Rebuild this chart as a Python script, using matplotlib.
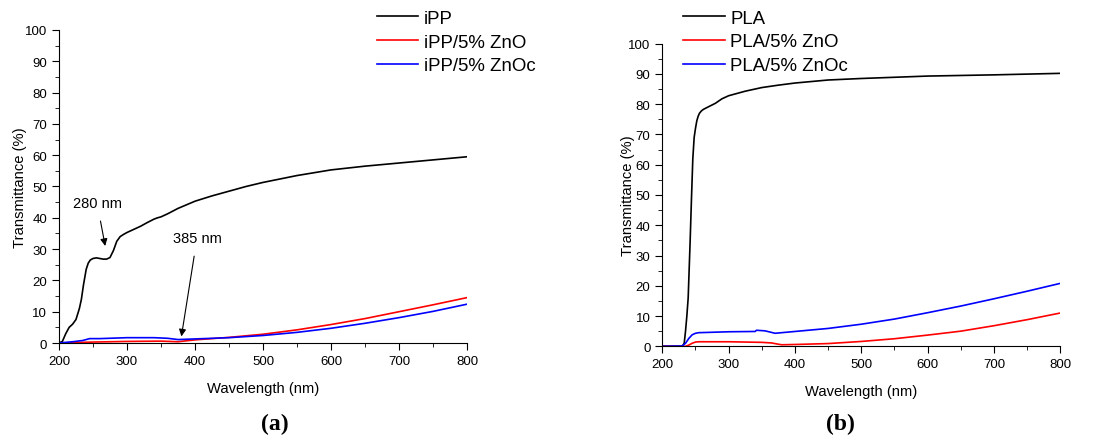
import matplotlib
matplotlib.use('Agg')
import matplotlib.pyplot as plt
from matplotlib.ticker import MultipleLocator

plt.rcParams['font.family'] = ['Liberation Sans', 'DejaVu Sans']

# (a) iPP
wl_ipp = [200, 205, 210, 215, 220, 225, 230, 233, 236, 240, 243, 246, 250, 255, 260, 265, 270,
          275, 280, 285, 290, 295, 300, 310, 320, 330, 340, 345, 350, 360, 375, 400, 425, 450,
          475, 500, 550, 600, 650, 700, 750, 800]
t_ipp = [0, 0.5, 3, 5, 6, 7.5, 11, 14, 18.5, 23.5, 25.5, 26.5, 27, 27.2, 27, 26.8, 26.8,
         27.3, 29.5, 32.5, 34, 34.7, 35.3, 36.3, 37.3, 38.5, 39.6, 40, 40.3, 41.3, 43, 45.3, 47, 48.5,
         50, 51.3, 53.5, 55.3, 56.5, 57.5, 58.5, 59.5]

wl_ipp_zno = [200, 250, 300, 350, 375, 400, 450, 500, 550, 600, 650, 700, 750, 800]
t_ipp_zno = [0, 0.3, 0.5, 0.6, 0.4, 1.0, 1.8, 2.8, 4.2, 5.9, 7.8, 10.0, 12.2, 14.5]

wl_ipp_znoc = [200, 220, 235, 245, 260, 300, 340, 360, 375, 400, 450, 500, 550, 600, 650, 700, 750, 800]
t_ipp_znoc = [0, 0.4, 0.8, 1.4, 1.4, 1.7, 1.7, 1.5, 1.1, 1.3, 1.7, 2.4, 3.4, 4.7, 6.3, 8.1, 10.1, 12.4]

# (b) PLA
wl_pla = [200, 230, 233, 235, 237, 239, 242, 244, 246, 248, 250, 252, 254, 256, 259, 262, 270,
          280, 290, 300, 325, 350, 375, 400, 450, 500, 550, 600, 700, 800]
t_pla = [0, 0, 1, 5, 10, 16, 35, 49, 62, 69, 72, 74.5, 76, 77, 77.8, 78.3, 79.2,
         80.3, 81.8, 82.8, 84.3, 85.5, 86.3, 87, 88, 88.5, 88.9, 89.3, 89.7, 90.2]

wl_pla_zno = [200, 235, 240, 245, 250, 255, 300, 350, 365, 372, 380, 400, 450, 500, 550, 600,
              650, 700, 750, 800]
t_pla_zno = [0, 0, 0.4, 1.0, 1.4, 1.5, 1.5, 1.3, 1.1, 0.8, 0.5, 0.6, 0.9, 1.6, 2.5, 3.7,
             5.0, 6.8, 8.8, 11.0]

wl_pla_znoc = [200, 230, 235, 240, 245, 250, 255, 300, 340, 342, 355, 370, 375, 400, 450, 500,
               550, 600, 650, 700, 750, 800]
t_pla_znoc = [0, 0.1, 1, 2.6, 3.8, 4.3, 4.5, 4.8, 4.9, 5.3, 5.1, 4.3, 4.4, 4.9, 5.9, 7.3,
              9.0, 11.1, 13.3, 15.7, 18.2, 20.8]

fig = plt.figure(figsize=(10.94, 4.39), dpi=100)
ax1 = fig.add_axes([0.0539, 0.2164, 0.373, 0.713])
ax2 = fig.add_axes([0.6054, 0.2089, 0.3638, 0.6893])


def estilo(ax, pad_y):
    ax.set_xlim(200, 800)
    ax.set_ylim(0, 100)
    ax.spines['top'].set_visible(False)
    ax.spines['right'].set_visible(False)
    ax.xaxis.set_major_locator(MultipleLocator(100))
    ax.xaxis.set_minor_locator(MultipleLocator(50))
    ax.yaxis.set_major_locator(MultipleLocator(10))
    ax.yaxis.set_minor_locator(MultipleLocator(5))
    ax.tick_params(which='major', direction='out', length=5, labelsize=9.5)
    ax.tick_params(which='minor', direction='out', length=3)
    ax.set_xlabel('Wavelength (nm)', fontsize=10.6, labelpad=10)
    ax.set_ylabel('Transmittance (%)', fontsize=10.6, labelpad=pad_y)


leg_kw = dict(loc='upper left', frameon=False, fontsize=13.4, handlelength=2.25,
              handletextpad=0.3, labelspacing=0.37, borderaxespad=0)

ax1.plot(wl_ipp, t_ipp, color='black', lw=1.2, label='iPP')
ax1.plot(wl_ipp_zno, t_ipp_zno, color='red', lw=1.2, label='iPP/5% ZnO')
ax1.plot(wl_ipp_znoc, t_ipp_znoc, color='blue', lw=1.2, label='iPP/5% ZnOc')
estilo(ax1, -1.8)
ax1.annotate('280 nm', xy=(268, 31), xytext=(256, 44.7), ha='center', va='center', fontsize=10.5,
             arrowprops=dict(arrowstyle='-|>', color='black', lw=0.8, shrinkA=6, shrinkB=0))
ax1.annotate('385 nm', xy=(380, 2.1), xytext=(403, 33.5), ha='center', va='center', fontsize=10.5,
             arrowprops=dict(arrowstyle='-|>', color='black', lw=0.8, shrinkA=6, shrinkB=0))
ax1.legend(bbox_to_anchor=(0.76, 1.089), **leg_kw)

ax2.plot(wl_pla, t_pla, color='black', lw=1.2, label='PLA')
ax2.plot(wl_pla_zno, t_pla_zno, color='red', lw=1.2, label='PLA/5% ZnO')
ax2.plot(wl_pla_znoc, t_pla_znoc, color='blue', lw=1.2, label='PLA/5% ZnOc')
estilo(ax2, -4.6)
ax2.legend(bbox_to_anchor=(0.033, 1.1375), **leg_kw)

fig.text(275 / 1094, 1 - 424 / 439, '(a)', ha='center', va='center', fontsize=17,
         fontweight='bold', family='Liberation Serif')
fig.text(840 / 1094, 1 - 424 / 439, '(b)', ha='center', va='center', fontsize=17,
         fontweight='bold', family='Liberation Serif')

fig.savefig('out.png', dpi=100)
